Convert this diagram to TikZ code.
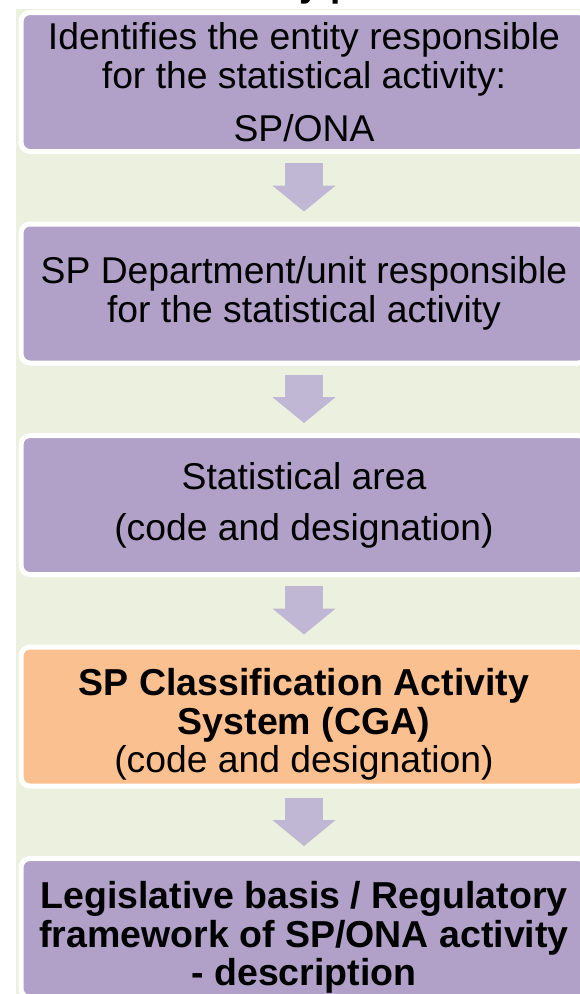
\documentclass[tikz,border=0pt]{standalone}
\usepackage{fontspec}
\setmainfont{Liberation Sans}
\usetikzlibrary{arrows.meta}
\definecolor{panelgreen}{HTML}{EBF1DE}
\definecolor{boxpurple}{HTML}{B1A0C7}
\definecolor{boxorange}{HTML}{FAC08F}
\definecolor{arrowlilac}{HTML}{C0B7D4}
\begin{document}
\begin{tikzpicture}[x=1pt,y=-1pt,
    stepbox/.style={draw=white,line width=5pt,fill=boxpurple,rounded corners=9pt,
        minimum width=566pt,minimum height=139pt,inner sep=0pt,align=center,
        font=\fontsize{37.3}{39}\selectfont},
    boldbox/.style={stepbox,font=\bfseries\fontsize{37.5}{38.5}\selectfont},
    downarrow/.style={arrowlilac,line width=38pt,-{Triangle[width=62pt,length=26pt]},
        shorten <=9pt,shorten >=10pt}]
    \useasboundingbox (0,0) rectangle (579,994);
    \fill[panelgreen] (16,9) rectangle (600,1000);
    \node[anchor=base,font=\bfseries\fontsize{37}{39}\selectfont] (title) at (315,-3.5) {Activity profile};

    \node[stepbox] (entity) at (304,82) {Identifies the entity responsible\\for the statistical activity:\\[14pt]SP/ONA};
    \node[stepbox] (dept) at (304,293.5) {SP Department/unit responsible\\for the statistical activity};
    \node[stepbox] (area) at (304,505) {Statistical area\\[12pt](code and designation)};
    \node[boldbox,fill=boxorange] (cga) at (304,716.5) {\rule{0pt}{43pt}SP Classification Activity\\System (CGA)\\{\mdseries\fontsize{37.3}{38.5}\selectfont(code and designation)}};
    \node[boldbox] (legal) at (304,928) {\rule{0pt}{46pt}Legislative basis / Regulatory\\framework of SP/ONA activity\\- description};

    \draw[downarrow] (entity) to (dept); \draw[downarrow] (dept) to (area);
    \draw[downarrow] (area) to (cga); \draw[downarrow] (cga) to (legal);
\end{tikzpicture}
\end{document}
